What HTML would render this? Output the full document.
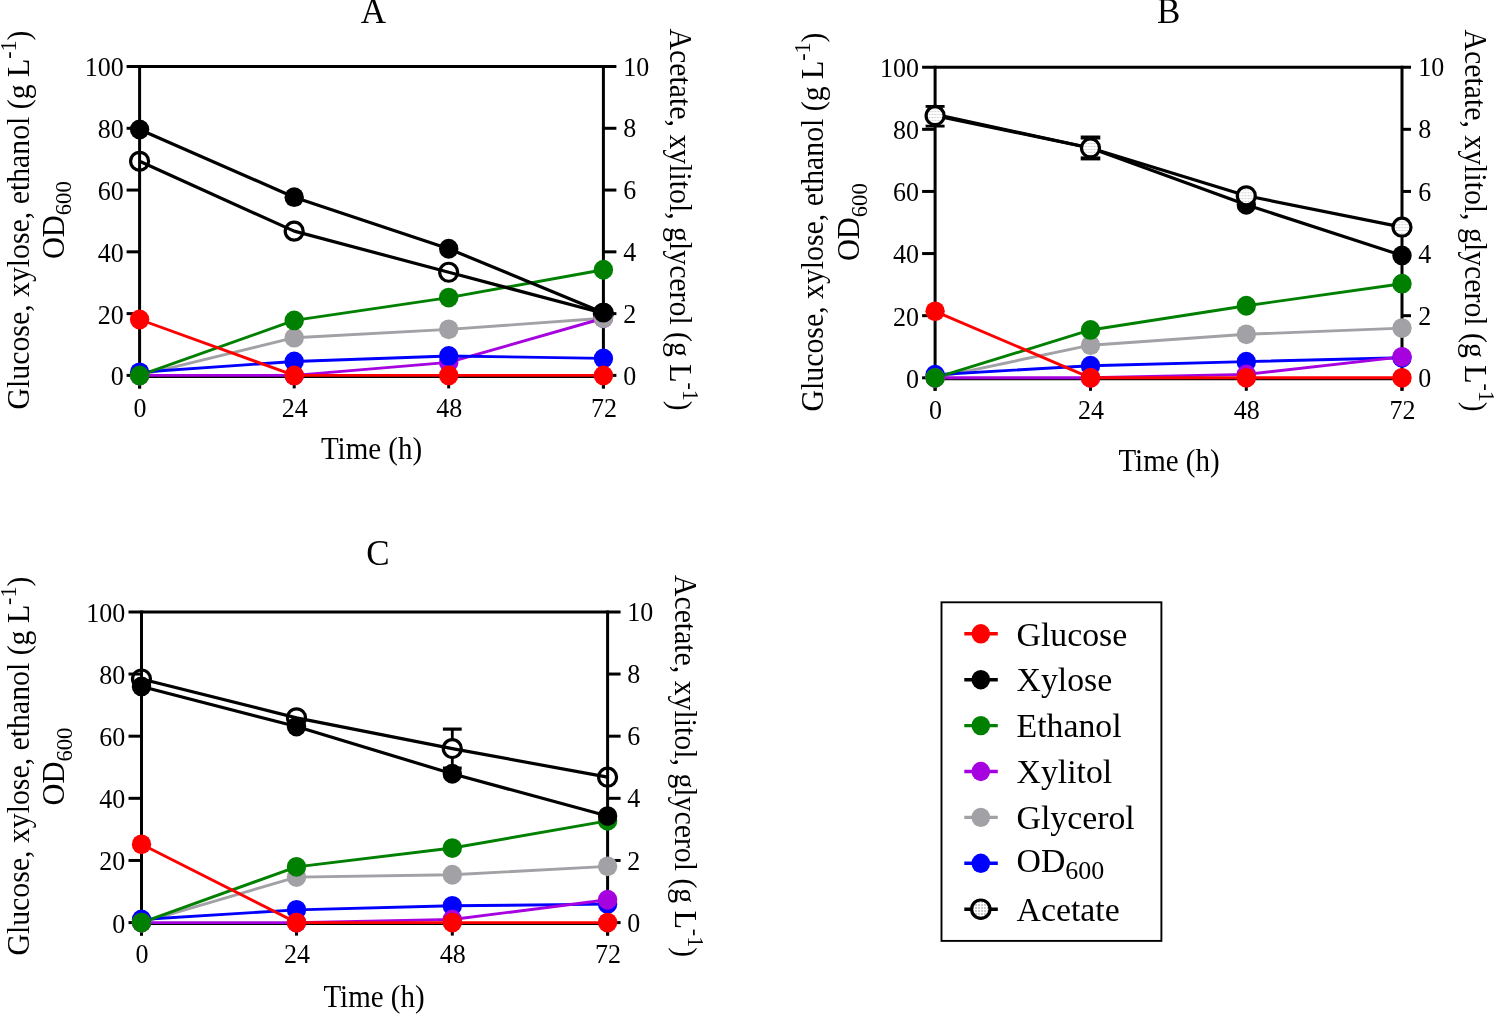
<!DOCTYPE html><html><head><meta charset="utf-8"><title>Fermentation time courses</title>
<style>html,body{margin:0;padding:0;background:#fff;overflow:hidden}svg{display:block;will-change:transform}text{font-family:"Liberation Serif", serif;fill:#000}</style></head><body>
<svg width="1494" height="1014" viewBox="0 0 1494 1014">
<defs><pattern id="dots" width="2.9" height="2.9" patternUnits="userSpaceOnUse"><rect width="2.9" height="2.9" fill="#fff"/><rect x="0.5" y="1" width="1.8" height="0.9" fill="#c8c8c8"/></pattern><pattern id="dots2" width="3" height="3" patternUnits="userSpaceOnUse"><rect width="3" height="3" fill="#fff"/><rect x="0" y="1" width="2" height="2" fill="#cfcfcf"/></pattern></defs>
<rect width="1494" height="1014" fill="#fff"/>
<line x1="126.6" y1="66.5" x2="616.4" y2="66.5" stroke="#000000" stroke-width="3" stroke-linecap="butt"/>
<line x1="139.6" y1="65" x2="139.6" y2="388.4" stroke="#000000" stroke-width="3" stroke-linecap="butt"/>
<line x1="603.4" y1="65" x2="603.4" y2="388.4" stroke="#000000" stroke-width="3" stroke-linecap="butt"/>
<line x1="139.6" y1="376.4" x2="603.4" y2="376.4" stroke="#000000" stroke-width="3" stroke-linecap="butt"/>
<line x1="126.6" y1="375.4" x2="139.6" y2="375.4" stroke="#000000" stroke-width="3" stroke-linecap="butt"/>
<line x1="603.4" y1="375.4" x2="616.4" y2="375.4" stroke="#000000" stroke-width="3" stroke-linecap="butt"/>
<line x1="126.6" y1="313.62" x2="139.6" y2="313.62" stroke="#000000" stroke-width="3" stroke-linecap="butt"/>
<line x1="603.4" y1="313.62" x2="616.4" y2="313.62" stroke="#000000" stroke-width="3" stroke-linecap="butt"/>
<line x1="126.6" y1="251.84" x2="139.6" y2="251.84" stroke="#000000" stroke-width="3" stroke-linecap="butt"/>
<line x1="603.4" y1="251.84" x2="616.4" y2="251.84" stroke="#000000" stroke-width="3" stroke-linecap="butt"/>
<line x1="126.6" y1="190.06" x2="139.6" y2="190.06" stroke="#000000" stroke-width="3" stroke-linecap="butt"/>
<line x1="603.4" y1="190.06" x2="616.4" y2="190.06" stroke="#000000" stroke-width="3" stroke-linecap="butt"/>
<line x1="126.6" y1="128.28" x2="139.6" y2="128.28" stroke="#000000" stroke-width="3" stroke-linecap="butt"/>
<line x1="603.4" y1="128.28" x2="616.4" y2="128.28" stroke="#000000" stroke-width="3" stroke-linecap="butt"/>
<line x1="139.6" y1="375.4" x2="139.6" y2="388.4" stroke="#000000" stroke-width="3" stroke-linecap="butt"/>
<line x1="294.2" y1="375.4" x2="294.2" y2="388.4" stroke="#000000" stroke-width="3" stroke-linecap="butt"/>
<line x1="448.7" y1="375.4" x2="448.7" y2="388.4" stroke="#000000" stroke-width="3" stroke-linecap="butt"/>
<line x1="603.4" y1="375.4" x2="603.4" y2="388.4" stroke="#000000" stroke-width="3" stroke-linecap="butt"/>
<text transform="translate(123.8,385.3) scale(1,1.05)" font-size="26" text-anchor="end">0</text>
<text transform="translate(623.2,384.5) scale(1,1.05)" font-size="26" text-anchor="start">0</text>
<text transform="translate(123.8,323.52) scale(1,1.05)" font-size="26" text-anchor="end">20</text>
<text transform="translate(623.2,322.72) scale(1,1.05)" font-size="26" text-anchor="start">2</text>
<text transform="translate(123.8,261.74) scale(1,1.05)" font-size="26" text-anchor="end">40</text>
<text transform="translate(623.2,260.94) scale(1,1.05)" font-size="26" text-anchor="start">4</text>
<text transform="translate(123.8,199.96) scale(1,1.05)" font-size="26" text-anchor="end">60</text>
<text transform="translate(623.2,199.16) scale(1,1.05)" font-size="26" text-anchor="start">6</text>
<text transform="translate(123.8,138.18) scale(1,1.05)" font-size="26" text-anchor="end">80</text>
<text transform="translate(623.2,137.38) scale(1,1.05)" font-size="26" text-anchor="start">8</text>
<text transform="translate(123.8,76.4) scale(1,1.05)" font-size="26" text-anchor="end">100</text>
<text transform="translate(623.2,75.6) scale(1,1.05)" font-size="26" text-anchor="start">10</text>
<text transform="translate(140.1,416.5) scale(1,1.05)" font-size="26" text-anchor="middle">0</text>
<text transform="translate(294.7,416.5) scale(1,1.05)" font-size="26" text-anchor="middle">24</text>
<text transform="translate(449.2,416.5) scale(1,1.05)" font-size="26" text-anchor="middle">48</text>
<text transform="translate(603.9,416.5) scale(1,1.05)" font-size="26" text-anchor="middle">72</text>
<text transform="translate(373.5,22.9) scale(1,1.03)" font-size="35" text-anchor="middle">A</text>
<text transform="translate(371.5,459.1) scale(1,1.08)" font-size="29" text-anchor="middle">Time (h)</text>
<text transform="translate(28.8,220) rotate(-90) scale(1,1.06)" font-size="29.8" text-anchor="middle">Glucose, xylose, ethanol (g L<tspan font-size="22" dy="-12.4">-1</tspan><tspan dy="12.4">)</tspan></text>
<text transform="translate(63.6,220.2) rotate(-90) scale(1,1.06)" font-size="30.4" text-anchor="middle">OD<tspan font-size="22.6" dy="7.3">600</tspan></text>
<text transform="translate(670,219.7) rotate(90) scale(1,1.06)" font-size="29.8" text-anchor="middle">Acetate, xylitol, glycerol (g L<tspan font-size="22" dy="-12.4">-1</tspan><tspan dy="12.4">)</tspan></text>
<polyline points="139.6,375.4 294.2,337.71 448.7,329.37 603.4,318.25" fill="none" stroke="#a1a1a6" stroke-width="2.9" stroke-linejoin="round"/>
<polyline points="139.6,375.4 294.2,375.4 448.7,362.43 603.4,318.25" fill="none" stroke="#a602e0" stroke-width="2.9" stroke-linejoin="round"/>
<polyline points="139.6,372.31 294.2,361.5 448.7,355.94 603.4,358.41" fill="none" stroke="#0000ff" stroke-width="2.9" stroke-linejoin="round"/>
<polyline points="139.6,375.4 294.2,320.42 448.7,297.56 603.4,269.76" fill="none" stroke="#008000" stroke-width="2.9" stroke-linejoin="round"/>
<polyline points="139.6,319.49 294.2,375.4 448.7,375.4 603.4,375.4" fill="none" stroke="#ff0000" stroke-width="2.9" stroke-linejoin="round"/>
<polyline points="139.6,161.33 294.2,231.14 448.7,272.23 603.4,313.31" fill="none" stroke="#000000" stroke-width="3.2" stroke-linejoin="round"/>
<polyline points="139.6,129.52 294.2,197.16 448.7,248.75 603.4,312.69" fill="none" stroke="#000000" stroke-width="3.2" stroke-linejoin="round"/>
<circle cx="139.6" cy="161.33" r="9" fill="none" stroke="#000000" stroke-width="3.2"/>
<circle cx="294.2" cy="231.14" r="9" fill="none" stroke="#000000" stroke-width="3.2"/>
<circle cx="448.7" cy="272.23" r="9" fill="none" stroke="#000000" stroke-width="3.2"/>
<circle cx="603.4" cy="313.31" r="9" fill="none" stroke="#000000" stroke-width="3.2"/>
<ellipse cx="139.6" cy="375.4" rx="9.7" ry="9.9" fill="#a602e0"/>
<ellipse cx="294.2" cy="375.4" rx="9.7" ry="9.9" fill="#a602e0"/>
<ellipse cx="448.7" cy="362.43" rx="9.7" ry="9.9" fill="#a602e0"/>
<ellipse cx="603.4" cy="318.25" rx="9.7" ry="9.9" fill="#a602e0"/>
<ellipse cx="139.6" cy="375.4" rx="9.7" ry="9.9" fill="#a1a1a6"/>
<ellipse cx="294.2" cy="337.71" rx="9.7" ry="9.9" fill="#a1a1a6"/>
<ellipse cx="448.7" cy="329.37" rx="9.7" ry="9.9" fill="#a1a1a6"/>
<ellipse cx="603.4" cy="318.25" rx="9.7" ry="9.9" fill="#a1a1a6"/>
<ellipse cx="139.6" cy="372.31" rx="9.7" ry="9.9" fill="#0000ff"/>
<ellipse cx="294.2" cy="361.5" rx="9.7" ry="9.9" fill="#0000ff"/>
<ellipse cx="448.7" cy="355.94" rx="9.7" ry="9.9" fill="#0000ff"/>
<ellipse cx="603.4" cy="358.41" rx="9.7" ry="9.9" fill="#0000ff"/>
<ellipse cx="139.6" cy="375.4" rx="9.7" ry="9.9" fill="#008000"/>
<ellipse cx="294.2" cy="320.42" rx="9.7" ry="9.9" fill="#008000"/>
<ellipse cx="448.7" cy="297.56" rx="9.7" ry="9.9" fill="#008000"/>
<ellipse cx="603.4" cy="269.76" rx="9.7" ry="9.9" fill="#008000"/>
<ellipse cx="139.6" cy="129.52" rx="9.7" ry="9.9" fill="#000000"/>
<ellipse cx="294.2" cy="197.16" rx="9.7" ry="9.9" fill="#000000"/>
<ellipse cx="448.7" cy="248.75" rx="9.7" ry="9.9" fill="#000000"/>
<ellipse cx="603.4" cy="312.69" rx="9.7" ry="9.9" fill="#000000"/>
<ellipse cx="139.6" cy="319.49" rx="9.7" ry="9.9" fill="#ff0000"/>
<ellipse cx="294.2" cy="375.4" rx="9.7" ry="9.9" fill="#ff0000"/>
<ellipse cx="448.7" cy="375.4" rx="9.7" ry="9.9" fill="#ff0000"/>
<ellipse cx="603.4" cy="375.4" rx="9.7" ry="9.9" fill="#ff0000"/>
<line x1="922.1" y1="67.2" x2="1411" y2="67.2" stroke="#000000" stroke-width="3" stroke-linecap="butt"/>
<line x1="935.1" y1="65.7" x2="935.1" y2="390.8" stroke="#000000" stroke-width="3" stroke-linecap="butt"/>
<line x1="1402" y1="65.7" x2="1402" y2="390.8" stroke="#000000" stroke-width="3" stroke-linecap="butt"/>
<line x1="935.1" y1="378.8" x2="1402" y2="378.8" stroke="#000000" stroke-width="3" stroke-linecap="butt"/>
<line x1="922.1" y1="377.8" x2="935.1" y2="377.8" stroke="#000000" stroke-width="3" stroke-linecap="butt"/>
<line x1="1402" y1="377.8" x2="1411" y2="377.8" stroke="#000000" stroke-width="3" stroke-linecap="butt"/>
<line x1="922.1" y1="315.68" x2="935.1" y2="315.68" stroke="#000000" stroke-width="3" stroke-linecap="butt"/>
<line x1="1402" y1="315.68" x2="1411" y2="315.68" stroke="#000000" stroke-width="3" stroke-linecap="butt"/>
<line x1="922.1" y1="253.56" x2="935.1" y2="253.56" stroke="#000000" stroke-width="3" stroke-linecap="butt"/>
<line x1="1402" y1="253.56" x2="1411" y2="253.56" stroke="#000000" stroke-width="3" stroke-linecap="butt"/>
<line x1="922.1" y1="191.44" x2="935.1" y2="191.44" stroke="#000000" stroke-width="3" stroke-linecap="butt"/>
<line x1="1402" y1="191.44" x2="1411" y2="191.44" stroke="#000000" stroke-width="3" stroke-linecap="butt"/>
<line x1="922.1" y1="129.32" x2="935.1" y2="129.32" stroke="#000000" stroke-width="3" stroke-linecap="butt"/>
<line x1="1402" y1="129.32" x2="1411" y2="129.32" stroke="#000000" stroke-width="3" stroke-linecap="butt"/>
<line x1="935.1" y1="377.8" x2="935.1" y2="390.8" stroke="#000000" stroke-width="3" stroke-linecap="butt"/>
<line x1="1090.5" y1="377.8" x2="1090.5" y2="390.8" stroke="#000000" stroke-width="3" stroke-linecap="butt"/>
<line x1="1246.3" y1="377.8" x2="1246.3" y2="390.8" stroke="#000000" stroke-width="3" stroke-linecap="butt"/>
<line x1="1402" y1="377.8" x2="1402" y2="390.8" stroke="#000000" stroke-width="3" stroke-linecap="butt"/>
<text transform="translate(919,387.7) scale(1,1.05)" font-size="26" text-anchor="end">0</text>
<text transform="translate(1418.2,386.9) scale(1,1.05)" font-size="26" text-anchor="start">0</text>
<text transform="translate(919,325.58) scale(1,1.05)" font-size="26" text-anchor="end">20</text>
<text transform="translate(1418.2,324.78) scale(1,1.05)" font-size="26" text-anchor="start">2</text>
<text transform="translate(919,263.46) scale(1,1.05)" font-size="26" text-anchor="end">40</text>
<text transform="translate(1418.2,262.66) scale(1,1.05)" font-size="26" text-anchor="start">4</text>
<text transform="translate(919,201.34) scale(1,1.05)" font-size="26" text-anchor="end">60</text>
<text transform="translate(1418.2,200.54) scale(1,1.05)" font-size="26" text-anchor="start">6</text>
<text transform="translate(919,139.22) scale(1,1.05)" font-size="26" text-anchor="end">80</text>
<text transform="translate(1418.2,138.42) scale(1,1.05)" font-size="26" text-anchor="start">8</text>
<text transform="translate(919,77.1) scale(1,1.05)" font-size="26" text-anchor="end">100</text>
<text transform="translate(1418.2,76.3) scale(1,1.05)" font-size="26" text-anchor="start">10</text>
<text transform="translate(935.6,418.5) scale(1,1.05)" font-size="26" text-anchor="middle">0</text>
<text transform="translate(1091,418.5) scale(1,1.05)" font-size="26" text-anchor="middle">24</text>
<text transform="translate(1246.8,418.5) scale(1,1.05)" font-size="26" text-anchor="middle">48</text>
<text transform="translate(1402.5,418.5) scale(1,1.05)" font-size="26" text-anchor="middle">72</text>
<text transform="translate(1168.6,22.9) scale(1,1.03)" font-size="35" text-anchor="middle">B</text>
<text transform="translate(1169,470.7) scale(1,1.08)" font-size="29" text-anchor="middle">Time (h)</text>
<text transform="translate(822.8,222) rotate(-90) scale(1,1.06)" font-size="29.8" text-anchor="middle">Glucose, xylose, ethanol (g L<tspan font-size="22" dy="-12.4">-1</tspan><tspan dy="12.4">)</tspan></text>
<text transform="translate(859.2,222.2) rotate(-90) scale(1,1.06)" font-size="30.4" text-anchor="middle">OD<tspan font-size="22.6" dy="7.3">600</tspan></text>
<text transform="translate(1465.4,220.6) rotate(90) scale(1,1.06)" font-size="29.8" text-anchor="middle">Acetate, xylitol, glycerol (g L<tspan font-size="22" dy="-12.4">-1</tspan><tspan dy="12.4">)</tspan></text>
<line x1="935.1" y1="106.42" x2="935.1" y2="107.27" stroke="#000000" stroke-width="2.8" stroke-linecap="butt"/>
<line x1="935.1" y1="125.27" x2="935.1" y2="126.12" stroke="#000000" stroke-width="2.8" stroke-linecap="butt"/>
<line x1="925.6" y1="106.42" x2="944.6" y2="106.42" stroke="#000000" stroke-width="2.8" stroke-linecap="butt"/>
<line x1="925.6" y1="126.12" x2="944.6" y2="126.12" stroke="#000000" stroke-width="2.8" stroke-linecap="butt"/>
<line x1="1090.5" y1="137.51" x2="1090.5" y2="138.96" stroke="#000000" stroke-width="2.8" stroke-linecap="butt"/>
<line x1="1090.5" y1="156.96" x2="1090.5" y2="158.41" stroke="#000000" stroke-width="2.8" stroke-linecap="butt"/>
<line x1="1080.7" y1="137.51" x2="1100.3" y2="137.51" stroke="#000000" stroke-width="4" stroke-linecap="butt"/>
<line x1="1080.7" y1="158.41" x2="1100.3" y2="158.41" stroke="#000000" stroke-width="4" stroke-linecap="butt"/>
<polyline points="935.1,377.8 1090.5,345.19 1246.3,334.32 1402,328.1" fill="none" stroke="#a1a1a6" stroke-width="2.9" stroke-linejoin="round"/>
<polyline points="935.1,374.69 1090.5,365.69 1246.3,361.65 1402,357.77" fill="none" stroke="#0000ff" stroke-width="2.9" stroke-linejoin="round"/>
<polyline points="935.1,377.8 1090.5,377.8 1246.3,374.38 1402,356.83" fill="none" stroke="#a602e0" stroke-width="2.9" stroke-linejoin="round"/>
<polyline points="935.1,377.8 1090.5,329.97 1246.3,305.74 1402,283.69" fill="none" stroke="#008000" stroke-width="2.9" stroke-linejoin="round"/>
<polyline points="935.1,311.33 1090.5,377.8 1246.3,377.8 1402,377.8" fill="none" stroke="#ff0000" stroke-width="2.9" stroke-linejoin="round"/>
<polyline points="935.1,114.41 1090.5,147.96 1246.3,204.8 1402,255.42" fill="none" stroke="#000000" stroke-width="3.2" stroke-linejoin="round"/>
<polyline points="935.1,115.65 1090.5,147.96 1246.3,195.79 1402,227.16" fill="none" stroke="#000000" stroke-width="3.2" stroke-linejoin="round"/>
<ellipse cx="935.1" cy="377.8" rx="9.7" ry="9.9" fill="#a1a1a6"/>
<ellipse cx="1090.5" cy="345.19" rx="9.7" ry="9.9" fill="#a1a1a6"/>
<ellipse cx="1246.3" cy="334.32" rx="9.7" ry="9.9" fill="#a1a1a6"/>
<ellipse cx="1402" cy="328.1" rx="9.7" ry="9.9" fill="#a1a1a6"/>
<ellipse cx="935.1" cy="374.69" rx="9.7" ry="9.9" fill="#0000ff"/>
<ellipse cx="1090.5" cy="365.69" rx="9.7" ry="9.9" fill="#0000ff"/>
<ellipse cx="1246.3" cy="361.65" rx="9.7" ry="9.9" fill="#0000ff"/>
<ellipse cx="1402" cy="357.77" rx="9.7" ry="9.9" fill="#0000ff"/>
<ellipse cx="935.1" cy="377.8" rx="9.7" ry="9.9" fill="#a602e0"/>
<ellipse cx="1090.5" cy="377.8" rx="9.7" ry="9.9" fill="#a602e0"/>
<ellipse cx="1246.3" cy="374.38" rx="9.7" ry="9.9" fill="#a602e0"/>
<ellipse cx="1402" cy="356.83" rx="9.7" ry="9.9" fill="#a602e0"/>
<ellipse cx="935.1" cy="377.8" rx="9.7" ry="9.9" fill="#008000"/>
<ellipse cx="1090.5" cy="329.97" rx="9.7" ry="9.9" fill="#008000"/>
<ellipse cx="1246.3" cy="305.74" rx="9.7" ry="9.9" fill="#008000"/>
<ellipse cx="1402" cy="283.69" rx="9.7" ry="9.9" fill="#008000"/>
<ellipse cx="935.1" cy="114.41" rx="9.7" ry="9.9" fill="#000000"/>
<ellipse cx="1090.5" cy="147.96" rx="9.7" ry="9.9" fill="#000000"/>
<ellipse cx="1246.3" cy="204.8" rx="9.7" ry="9.9" fill="#000000"/>
<ellipse cx="1402" cy="255.42" rx="9.7" ry="9.9" fill="#000000"/>
<ellipse cx="935.1" cy="311.33" rx="9.7" ry="9.9" fill="#ff0000"/>
<ellipse cx="1090.5" cy="377.8" rx="9.7" ry="9.9" fill="#ff0000"/>
<ellipse cx="1246.3" cy="377.8" rx="9.7" ry="9.9" fill="#ff0000"/>
<ellipse cx="1402" cy="377.8" rx="9.7" ry="9.9" fill="#ff0000"/>
<circle cx="935.1" cy="115.65" r="9" fill="url(#dots)" stroke="#000000" stroke-width="3.2"/>
<circle cx="1090.5" cy="147.96" r="9" fill="url(#dots)" stroke="#000000" stroke-width="3.2"/>
<circle cx="1246.3" cy="195.79" r="9" fill="url(#dots)" stroke="#000000" stroke-width="3.2"/>
<circle cx="1402" cy="227.16" r="9" fill="url(#dots)" stroke="#000000" stroke-width="3.2"/>
<line x1="128.5" y1="611.9" x2="620.6" y2="611.9" stroke="#000000" stroke-width="3" stroke-linecap="butt"/>
<line x1="141.5" y1="610.4" x2="141.5" y2="935.6" stroke="#000000" stroke-width="3" stroke-linecap="butt"/>
<line x1="607.6" y1="610.4" x2="607.6" y2="935.6" stroke="#000000" stroke-width="3" stroke-linecap="butt"/>
<line x1="141.5" y1="923.6" x2="607.6" y2="923.6" stroke="#000000" stroke-width="3" stroke-linecap="butt"/>
<line x1="128.5" y1="922.6" x2="141.5" y2="922.6" stroke="#000000" stroke-width="3" stroke-linecap="butt"/>
<line x1="607.6" y1="922.6" x2="620.6" y2="922.6" stroke="#000000" stroke-width="3" stroke-linecap="butt"/>
<line x1="128.5" y1="860.46" x2="141.5" y2="860.46" stroke="#000000" stroke-width="3" stroke-linecap="butt"/>
<line x1="607.6" y1="860.46" x2="620.6" y2="860.46" stroke="#000000" stroke-width="3" stroke-linecap="butt"/>
<line x1="128.5" y1="798.32" x2="141.5" y2="798.32" stroke="#000000" stroke-width="3" stroke-linecap="butt"/>
<line x1="607.6" y1="798.32" x2="620.6" y2="798.32" stroke="#000000" stroke-width="3" stroke-linecap="butt"/>
<line x1="128.5" y1="736.18" x2="141.5" y2="736.18" stroke="#000000" stroke-width="3" stroke-linecap="butt"/>
<line x1="607.6" y1="736.18" x2="620.6" y2="736.18" stroke="#000000" stroke-width="3" stroke-linecap="butt"/>
<line x1="128.5" y1="674.04" x2="141.5" y2="674.04" stroke="#000000" stroke-width="3" stroke-linecap="butt"/>
<line x1="607.6" y1="674.04" x2="620.6" y2="674.04" stroke="#000000" stroke-width="3" stroke-linecap="butt"/>
<line x1="141.5" y1="922.6" x2="141.5" y2="935.6" stroke="#000000" stroke-width="3" stroke-linecap="butt"/>
<line x1="296.5" y1="922.6" x2="296.5" y2="935.6" stroke="#000000" stroke-width="3" stroke-linecap="butt"/>
<line x1="452.3" y1="922.6" x2="452.3" y2="935.6" stroke="#000000" stroke-width="3" stroke-linecap="butt"/>
<line x1="607.6" y1="922.6" x2="607.6" y2="935.6" stroke="#000000" stroke-width="3" stroke-linecap="butt"/>
<text transform="translate(125.3,932.5) scale(1,1.05)" font-size="26" text-anchor="end">0</text>
<text transform="translate(627.3,931.7) scale(1,1.05)" font-size="26" text-anchor="start">0</text>
<text transform="translate(125.3,870.36) scale(1,1.05)" font-size="26" text-anchor="end">20</text>
<text transform="translate(627.3,869.56) scale(1,1.05)" font-size="26" text-anchor="start">2</text>
<text transform="translate(125.3,808.22) scale(1,1.05)" font-size="26" text-anchor="end">40</text>
<text transform="translate(627.3,807.42) scale(1,1.05)" font-size="26" text-anchor="start">4</text>
<text transform="translate(125.3,746.08) scale(1,1.05)" font-size="26" text-anchor="end">60</text>
<text transform="translate(627.3,745.28) scale(1,1.05)" font-size="26" text-anchor="start">6</text>
<text transform="translate(125.3,683.94) scale(1,1.05)" font-size="26" text-anchor="end">80</text>
<text transform="translate(627.3,683.14) scale(1,1.05)" font-size="26" text-anchor="start">8</text>
<text transform="translate(125.3,621.8) scale(1,1.05)" font-size="26" text-anchor="end">100</text>
<text transform="translate(627.3,621) scale(1,1.05)" font-size="26" text-anchor="start">10</text>
<text transform="translate(142,963.3) scale(1,1.05)" font-size="26" text-anchor="middle">0</text>
<text transform="translate(297,963.3) scale(1,1.05)" font-size="26" text-anchor="middle">24</text>
<text transform="translate(452.8,963.3) scale(1,1.05)" font-size="26" text-anchor="middle">48</text>
<text transform="translate(608.1,963.3) scale(1,1.05)" font-size="26" text-anchor="middle">72</text>
<text transform="translate(378,565) scale(1,1.03)" font-size="35" text-anchor="middle">C</text>
<text transform="translate(374,1006.9) scale(1,1.08)" font-size="29" text-anchor="middle">Time (h)</text>
<text transform="translate(29,766.1) rotate(-90) scale(1,1.06)" font-size="29.8" text-anchor="middle">Glucose, xylose, ethanol (g L<tspan font-size="22" dy="-12.4">-1</tspan><tspan dy="12.4">)</tspan></text>
<text transform="translate(64.4,766.5) rotate(-90) scale(1,1.06)" font-size="30.4" text-anchor="middle">OD<tspan font-size="22.6" dy="7.3">600</tspan></text>
<text transform="translate(674.9,766) rotate(90) scale(1,1.06)" font-size="29.8" text-anchor="middle">Acetate, xylitol, glycerol (g L<tspan font-size="22" dy="-12.4">-1</tspan><tspan dy="12.4">)</tspan></text>
<line x1="452.3" y1="729.11" x2="452.3" y2="739.61" stroke="#000000" stroke-width="2.8" stroke-linecap="butt"/>
<line x1="452.3" y1="757.61" x2="452.3" y2="768.11" stroke="#000000" stroke-width="2.8" stroke-linecap="butt"/>
<line x1="442.9" y1="729.11" x2="461.7" y2="729.11" stroke="#000000" stroke-width="3.2" stroke-linecap="butt"/>
<line x1="442.9" y1="768.11" x2="461.7" y2="768.11" stroke="#000000" stroke-width="3.2" stroke-linecap="butt"/>
<polyline points="141.5,922.6 296.5,877.08 452.3,874.75 607.6,866.36" fill="none" stroke="#a1a1a6" stroke-width="2.9" stroke-linejoin="round"/>
<polyline points="141.5,919.49 296.5,909.86 452.3,905.82 607.6,904.11" fill="none" stroke="#0000ff" stroke-width="2.9" stroke-linejoin="round"/>
<polyline points="141.5,922.6 296.5,922.6 452.3,919.49 607.6,899.76" fill="none" stroke="#a602e0" stroke-width="2.9" stroke-linejoin="round"/>
<polyline points="141.5,922.6 296.5,866.83 452.3,848.03 607.6,820.85" fill="none" stroke="#008000" stroke-width="2.9" stroke-linejoin="round"/>
<polyline points="141.5,844.3 296.5,922.6 452.3,922.6 607.6,922.6" fill="none" stroke="#ff0000" stroke-width="2.9" stroke-linejoin="round"/>
<polyline points="141.5,679.01 296.5,717.85 452.3,748.61 607.6,777.19" fill="none" stroke="#000000" stroke-width="3.2" stroke-linejoin="round"/>
<polyline points="141.5,686.47 296.5,726.55 452.3,773.77 607.6,816.03" fill="none" stroke="#000000" stroke-width="3.2" stroke-linejoin="round"/>
<circle cx="141.5" cy="679.01" r="9" fill="none" stroke="#000000" stroke-width="3.2"/>
<circle cx="296.5" cy="717.85" r="9" fill="none" stroke="#000000" stroke-width="3.2"/>
<circle cx="452.3" cy="748.61" r="9" fill="none" stroke="#000000" stroke-width="3.2"/>
<circle cx="607.6" cy="777.19" r="9" fill="none" stroke="#000000" stroke-width="3.2"/>
<ellipse cx="141.5" cy="922.6" rx="9.7" ry="9.9" fill="#a1a1a6"/>
<ellipse cx="296.5" cy="877.08" rx="9.7" ry="9.9" fill="#a1a1a6"/>
<ellipse cx="452.3" cy="874.75" rx="9.7" ry="9.9" fill="#a1a1a6"/>
<ellipse cx="607.6" cy="866.36" rx="9.7" ry="9.9" fill="#a1a1a6"/>
<ellipse cx="141.5" cy="919.49" rx="9.7" ry="9.9" fill="#0000ff"/>
<ellipse cx="296.5" cy="909.86" rx="9.7" ry="9.9" fill="#0000ff"/>
<ellipse cx="452.3" cy="905.82" rx="9.7" ry="9.9" fill="#0000ff"/>
<ellipse cx="607.6" cy="904.11" rx="9.7" ry="9.9" fill="#0000ff"/>
<ellipse cx="141.5" cy="922.6" rx="9.7" ry="9.9" fill="#a602e0"/>
<ellipse cx="296.5" cy="922.6" rx="9.7" ry="9.9" fill="#a602e0"/>
<ellipse cx="452.3" cy="919.49" rx="9.7" ry="9.9" fill="#a602e0"/>
<ellipse cx="607.6" cy="899.76" rx="9.7" ry="9.9" fill="#a602e0"/>
<ellipse cx="141.5" cy="922.6" rx="9.7" ry="9.9" fill="#008000"/>
<ellipse cx="296.5" cy="866.83" rx="9.7" ry="9.9" fill="#008000"/>
<ellipse cx="452.3" cy="848.03" rx="9.7" ry="9.9" fill="#008000"/>
<ellipse cx="607.6" cy="820.85" rx="9.7" ry="9.9" fill="#008000"/>
<ellipse cx="141.5" cy="686.47" rx="9.7" ry="9.9" fill="#000000"/>
<ellipse cx="296.5" cy="726.55" rx="9.7" ry="9.9" fill="#000000"/>
<ellipse cx="452.3" cy="773.77" rx="9.7" ry="9.9" fill="#000000"/>
<ellipse cx="607.6" cy="816.03" rx="9.7" ry="9.9" fill="#000000"/>
<ellipse cx="141.5" cy="844.3" rx="9.7" ry="9.9" fill="#ff0000"/>
<ellipse cx="296.5" cy="922.6" rx="9.7" ry="9.9" fill="#ff0000"/>
<ellipse cx="452.3" cy="922.6" rx="9.7" ry="9.9" fill="#ff0000"/>
<ellipse cx="607.6" cy="922.6" rx="9.7" ry="9.9" fill="#ff0000"/>
<rect x="941.5" y="602.3" width="219.9" height="338.6" fill="none" stroke="#000" stroke-width="1.9"/>
<line x1="964.3" y1="633.8" x2="997.8" y2="633.8" stroke="#ff0000" stroke-width="3.4" stroke-linecap="butt"/>
<ellipse cx="980.8" cy="633.8" rx="9.3" ry="9.7" fill="#ff0000"/>
<text transform="translate(1016.5,645.5)" font-size="33.8" text-anchor="start">Glucose</text>
<line x1="964.3" y1="679.7" x2="997.8" y2="679.7" stroke="#000000" stroke-width="3.4" stroke-linecap="butt"/>
<ellipse cx="980.8" cy="679.7" rx="9.3" ry="9.7" fill="#000000"/>
<text transform="translate(1016.5,691.4)" font-size="33.8" text-anchor="start">Xylose</text>
<line x1="964.3" y1="725.6" x2="997.8" y2="725.6" stroke="#008000" stroke-width="3.4" stroke-linecap="butt"/>
<ellipse cx="980.8" cy="725.6" rx="9.3" ry="9.7" fill="#008000"/>
<text transform="translate(1016.5,737.3)" font-size="33.8" text-anchor="start">Ethanol</text>
<line x1="964.3" y1="771.5" x2="997.8" y2="771.5" stroke="#a602e0" stroke-width="3.4" stroke-linecap="butt"/>
<ellipse cx="980.8" cy="771.5" rx="9.3" ry="9.7" fill="#a602e0"/>
<text transform="translate(1016.5,783.2)" font-size="33.8" text-anchor="start">Xylitol</text>
<line x1="964.3" y1="817.4" x2="997.8" y2="817.4" stroke="#a1a1a6" stroke-width="3.4" stroke-linecap="butt"/>
<ellipse cx="980.8" cy="817.4" rx="9.3" ry="9.7" fill="#a1a1a6"/>
<text transform="translate(1016.5,829.1)" font-size="33.8" text-anchor="start">Glycerol</text>
<line x1="964.3" y1="863.3" x2="997.8" y2="863.3" stroke="#0000ff" stroke-width="3.4" stroke-linecap="butt"/>
<ellipse cx="980.8" cy="863.3" rx="9.3" ry="9.7" fill="#0000ff"/>
<text transform="translate(1016.5,871.9)" font-size="33.8" text-anchor="start">OD<tspan font-size="26" dy="7.1">600</tspan></text>
<line x1="964.3" y1="909.2" x2="997.8" y2="909.2" stroke="#000000" stroke-width="3.4" stroke-linecap="butt"/>
<circle cx="980.8" cy="909.2" r="9.2" fill="url(#dots2)" stroke="#000000" stroke-width="3.2"/>
<text transform="translate(1016.5,920.9)" font-size="33.8" text-anchor="start">Acetate</text>
</svg></body></html>
